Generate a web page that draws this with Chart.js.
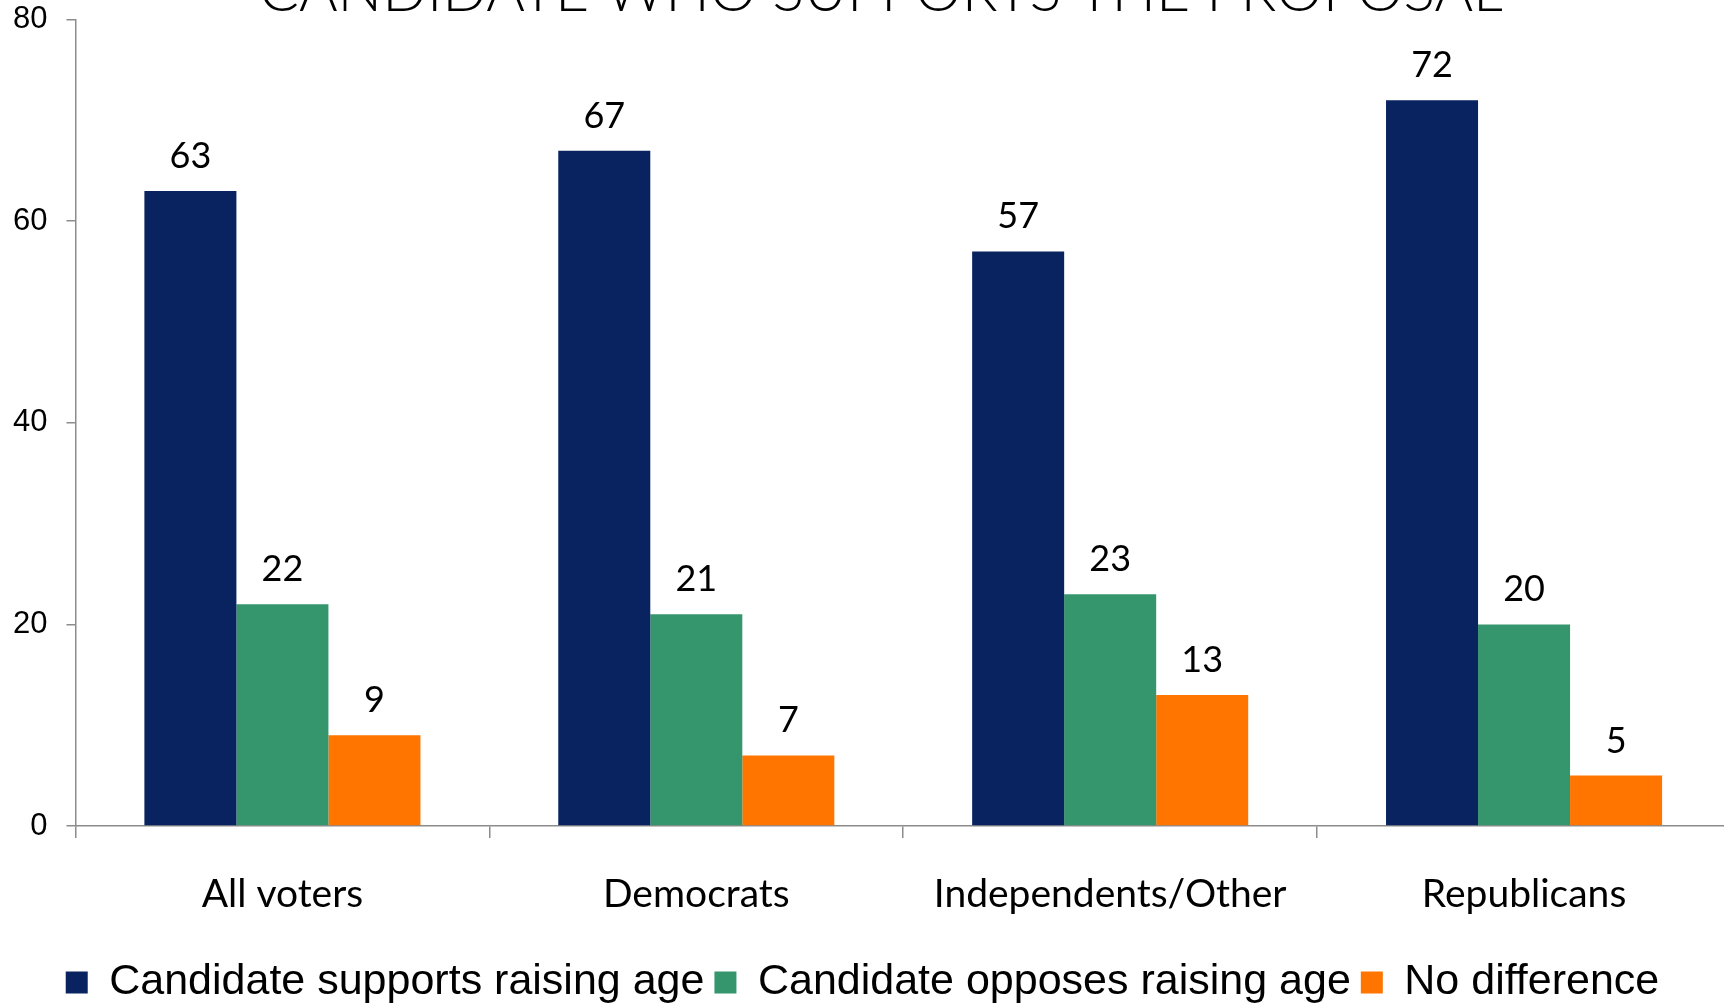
<!DOCTYPE html>
<html>
<head>
<meta charset="utf-8">
<script src="https://cdn.jsdelivr.net/npm/chart.js@4.4.0/dist/chart.umd.min.js"></script>
<style>
    html, body { margin: 0; padding: 0; background: #fff; overflow: hidden; }
    #wrap { position: absolute; left: 0; top: -18px; width: 1732px; height: 1021px; }
</style>
</head>
<body>
<div id="wrap"><canvas id="chart" width="1732" height="1021"></canvas></div>
<script>
const title_text = 'CANDIDATE WHO SUPPORTS THE PROPOSAL';
const groups = ['All voters', 'Democrats', 'Independents/Other', 'Republicans'];
const supports = [63, 67, 57, 72];
const opposes = [22, 21, 23, 20];
const no_difference = [9, 7, 13, 5];
const series_names = ['Candidate supports raising age', 'Candidate opposes raising age', 'No difference'];
const y_ticks = [0, 20, 40, 60, 80];

const colors = ['#08235f', '#35966d', '#ff7500'];
const axis_color = '#8c8c8c';

// value labels above the bars, plus the title that sits half off the top edge
const bar_labels = {
    id: 'bar_labels',
    afterDatasetsDraw(chart) {
        const ctx = chart.ctx;
        ctx.save();
        ctx.fillStyle = '#000';
        ctx.font = '36px Lato';
        ctx.textAlign = 'center';
        ctx.textBaseline = 'alphabetic';
        chart.data.datasets.forEach((ds, i) => {
            chart.getDatasetMeta(i).data.forEach((bar, j) => {
                ctx.fillText(String(ds.data[j]), bar.x, bar.y - 23);
            });
        });
        ctx.font = '300 59px Lato';
        ctx.fillText(title_text, 881, 29);
        ctx.restore();
    }
};

const ctx = document.getElementById('chart');
const chart = new Chart(ctx, {
    type: 'bar',
    data: {
        labels: groups,
        datasets: [supports, opposes, no_difference].map((values, i) => ({
            label: series_names[i],
            data: values,
            backgroundColor: colors[i],
            borderWidth: 0,
            categoryPercentage: 0.667,
            barPercentage: 1.0,
        }))
    },
    options: {
        responsive: false,
        animation: false,
        layout: {
            padding: { left: -6, right: 1, top: -13, bottom: -11 }
        },
        plugins: {
            legend: {
                position: 'bottom',
                labels: {
                    color: '#000',
                    boxWidth: 22,
                    boxHeight: 22,
                    padding: 10,
                    font: { family: 'Liberation Sans', size: 43 }
                }
            },
            title: { display: false },
            tooltip: { enabled: false }
        },
        scales: {
            x: {
                grid: {
                    offset: true,
                    drawOnChartArea: false,
                    tickLength: 12,
                    color: axis_color,
                    lineWidth: 1.5
                },
                border: { color: axis_color, width: 1.5 },
                ticks: {
                    color: '#000',
                    padding: 33,
                    font: { family: 'Lato', size: 39 }
                },
                afterFit(scale) { scale.height = 125; }
            },
            y: {
                min: 0,
                max: 80,
                afterBuildTicks(scale) { scale.ticks = y_ticks.map(v => ({ value: v })); },
                grid: {
                    drawOnChartArea: false,
                    tickLength: 9,
                    color: axis_color,
                    lineWidth: 1.5
                },
                border: { color: axis_color, width: 1.5 },
                ticks: {
                    color: '#000',
                    padding: 19,
                    font: { family: 'Liberation Sans', size: 31 }
                }
            }
        }
    },
    plugins: [bar_labels]
});
</script>
</body>
</html>
